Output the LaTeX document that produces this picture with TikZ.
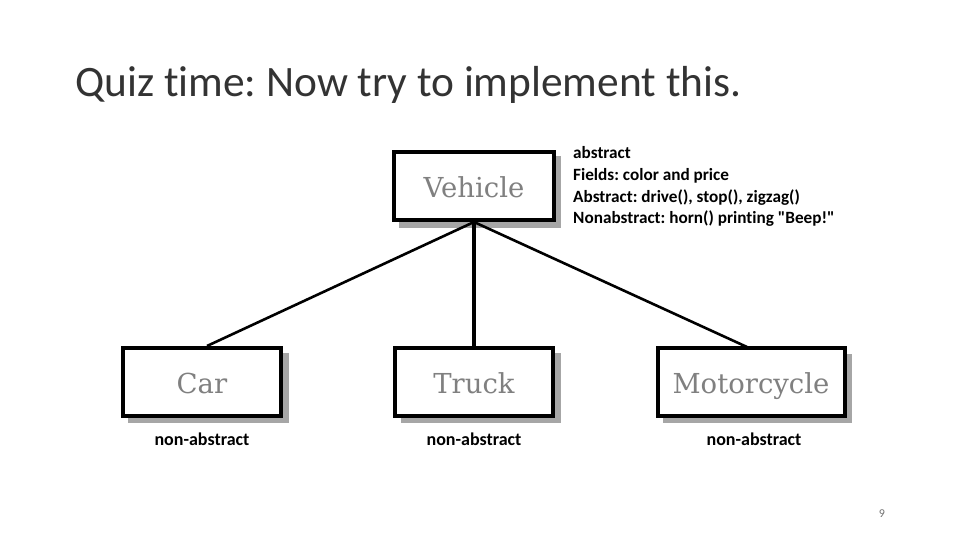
\documentclass[tikz,border=0pt]{standalone}
\usepackage{fontspec}
\setmainfont[Ligatures=NoCommon]{Carlito}
\newfontfamily\notefont[Ligatures=NoCommon]{Carlito}
\newfontfamily\boxfont{DejaVu Serif}
\frenchspacing
\begin{document}
\begin{tikzpicture}[x=1pt,y=-1pt,
  cls/.style={draw=black,line width=4pt,fill=white,minimum width=#1,minimum height=68pt,inner sep=0pt,
    text height=24pt,text depth=2pt,
    font=\boxfont\fontsize{27.5}{30}\selectfont,text=black!50},
  shadowbox/.style={fill=black!35,draw=none},
  lbl/.style={font=\notefont\bfseries\fontsize{18}{21.5}\selectfont,inner sep=0pt,anchor=base},
  note/.style={font=\notefont\bfseries\fontsize{17.2}{21.5}\selectfont,inner sep=0pt,anchor=base west},
  link/.style={line width=2.6pt,black}]
\useasboundingbox (0,0) rectangle (960,540);
\node[anchor=base west,inner sep=0pt,font=\fontsize{43.4}{48}\selectfont,text=black!80] (title) at (75,97) {Quiz time: Now try to implement this.};
% shadows
\fill[shadowbox] (399,156) rectangle (561,228);
\fill[shadowbox] (128,353) rectangle (289,423);
\fill[shadowbox] (401,353) rectangle (561,423);
\fill[shadowbox] (663,354) rectangle (852,423);
% boxes
\node[cls=160pt] (veh) at (474,186) {Vehicle};
\node[cls=158pt] (car) at (202,382) {Car};
\node[cls=158pt] (truck) at (474,382) {Truck};
\node[cls=187pt] (moto) at (751,382) {Motorcycle};
% links
\draw[link] (veh.south) -- (207,346);
\draw[link] (veh.south) -- (747,347);
\draw[line width=4pt] (veh.south) -- (truck.north);
% notes
\node[note] (note1) at (573,159) {abstract};
\node[note] (note2) at (573,180.5) {Fields: color and price};
\node[note] (note3) at (573,202) {Abstract: drive(), stop(), zigzag()};
\node[note] (note4) at (573,223.5) {Nonabstract: horn() printing "Beep!"};
\node[lbl] (c1) at (202,445) {non-abstract};
\node[lbl] (c2) at (474,445) {non-abstract};
\node[lbl] (c3) at (754,445) {non-abstract};
\node[inner sep=0pt,font=\fontsize{12}{12}\selectfont,text=black!55] (pg) at (882,514) {9};
\end{tikzpicture}
\end{document}
